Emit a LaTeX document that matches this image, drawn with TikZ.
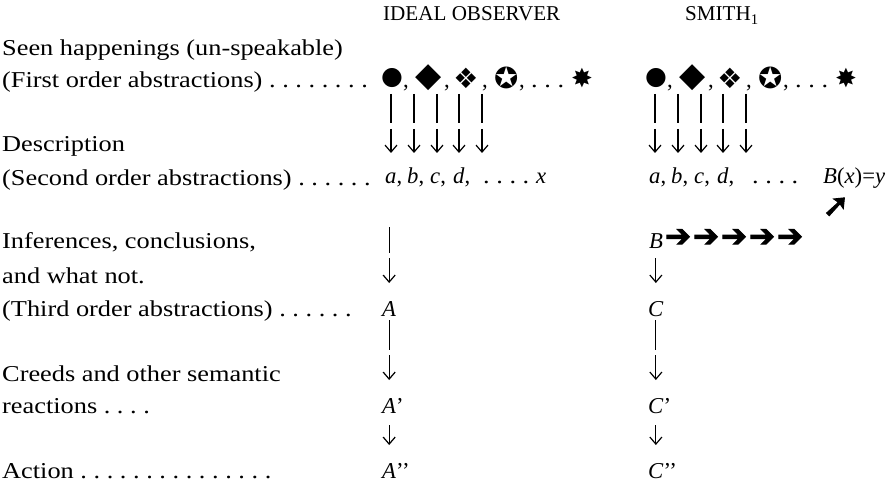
\documentclass[tikz,border=0pt]{standalone}
\usepackage{fontspec}
\setmainfont{Liberation Serif}
\newfontfamily\lblfont{Liberation Serif}[FakeStretch=1.16]
\newfontfamily\dingfont{DejaVu Sans}
\newfontfamily\dingbold{DejaVu Sans}[FakeBold=3]
\usetikzlibrary{arrows.meta}
\frenchspacing

\tikzset{
  txt/.style={anchor=base west, inner sep=0pt, font=\fontsize{22.7}{27}\selectfont},
  lbl/.style={txt, font=\fontsize{22.7}{27}\lblfont},
  head/.style={txt, font=\fontsize{21.1}{25}\selectfont},
  sym/.style={inner sep=0pt, font=\fontsize{#1}{#1}\dingfont},
  sym/.default=20,
  heavy/.style={inner sep=0pt, font=\fontsize{#1}{#1}\dingbold},
  stem/.style={line width=1.2pt, -{Straight Barb[length=7pt,width=12pt]}},
}

\begin{document}
\begin{tikzpicture}[x=1pt, y=-1pt]
\useasboundingbox (0,0) rectangle (886,484);

% left column
\node[lbl] (seen) at (2,56) {Seen happenings (un-speakable)};
\node[lbl] (first) at (2,88) {(First order abstractions) . . . . . . . .};
\node[lbl] (descr) at (2,152) {Description};
\node[lbl] (second) at (2,185) {(Second order abstractions) . . . . . .};
\node[lbl] (infer) at (2,248) {Inferences, conclusions,};
\node[lbl] (whatnot) at (2,283) {and what not.};
\node[lbl] (third) at (2,316) {(Third order abstractions) . . . . . .};
\node[lbl] (creeds) at (2,381) {Creeds and other semantic};
\node[lbl] (react) at (2,413) {reactions . . . .};
\node[lbl] (action) at (2,478) {Action . . . . . . . . . . . . . . .};

% headings
\node[head] (ioh) at (383,21) {IDEAL OBSERVER};
\node[head] (smh) at (685,21) {SMITH\textsubscript{1}};

% first and second order rows, both columns
\foreach \col/\dx in {io/0, sm/264} {
  \foreach \s/\x/\sz [count=\i] in {●/392/25, ◆/429/34, ❖/466/28, ✪/507/29, ✸/582/26}
    \node[sym=\sz] (\col-s\i) at (\x+\dx,78) {\s};
  \foreach \x [count=\i] in {403,444,482,519}
    \node[txt] (\col-c\i) at (\x+\dx,88) {,};
  \node[lbl] (\col-dots) at (531+\dx,88) {. . .};
  \foreach \l/\x in {a/385, b/407, c/430, d/453}
    \node[txt] (\col-\l) at (\x+\dx,183) {\textit{\l},};
  \foreach \x in {391,414,437,459,482}
    \draw[stem, dash pattern=on 29pt off 6pt on 100pt, shorten <=6pt, shorten >=30pt]
      (\x+\dx,0 |- \col-c1.base) -- (\x+\dx,0 |- \col-a.base);
}
\node[lbl] (io-ldots) at (483,183) {. . . .};
\node[txt] (io-x) at (536,183) {\textit{x}};
\node[lbl] (sm-ldots) at (752,183) {. . . .};
\node[txt] (sm-bx) at (823,183) {\textit{B}(\textit{x})=\textit{y}};

% smith: B and the arrows
\node[heavy=32] (sm-ne) at (836,207) {➚};
\node[txt] (sm-B) at (649,248) {\textit{B}};
\foreach \x [count=\i] in {678,706,734,762,790}
  \node[heavy=31] (sm-r\i) at (\x,238) {➔};

% third order and after
\node[txt] (io-A) at (382,316) {\textit{A}};
\node[txt] (io-Ap) at (382,413) {\textit{A}’};
\node[txt] (io-App) at (382,478) {\textit{A}’’};
\node[txt] (sm-C) at (648,316) {\textit{C}};
\node[txt] (sm-Cp) at (648,413) {\textit{C}’};
\node[txt] (sm-Cpp) at (648,478) {\textit{C}’’};

\draw[stem, dash pattern=on 26pt off 5pt on 100pt, shorten <=44pt, shorten >=33pt]
  (io-A |- io-a.base) -- (io-A.base);
\draw[stem, dash pattern=on 30pt off 5pt on 100pt, shorten <=4pt, shorten >=33pt]
  (io-A.base) -- (io-A |- io-Ap.base);
\draw[stem, shorten <=12pt, shorten >=33pt]
  (io-A |- io-Ap.base) -- (io-A |- io-App.base);

\draw[stem, shorten <=10pt, shorten >=33pt]
  (sm-C |- sm-B.base) -- (sm-C.base);
\draw[stem, dash pattern=on 30pt off 5pt on 100pt, shorten <=4pt, shorten >=33pt]
  (sm-C.base) -- (sm-C |- sm-Cp.base);
\draw[stem, shorten <=12pt, shorten >=33pt]
  (sm-C |- sm-Cp.base) -- (sm-C |- sm-Cpp.base);
\end{tikzpicture}
\end{document}
